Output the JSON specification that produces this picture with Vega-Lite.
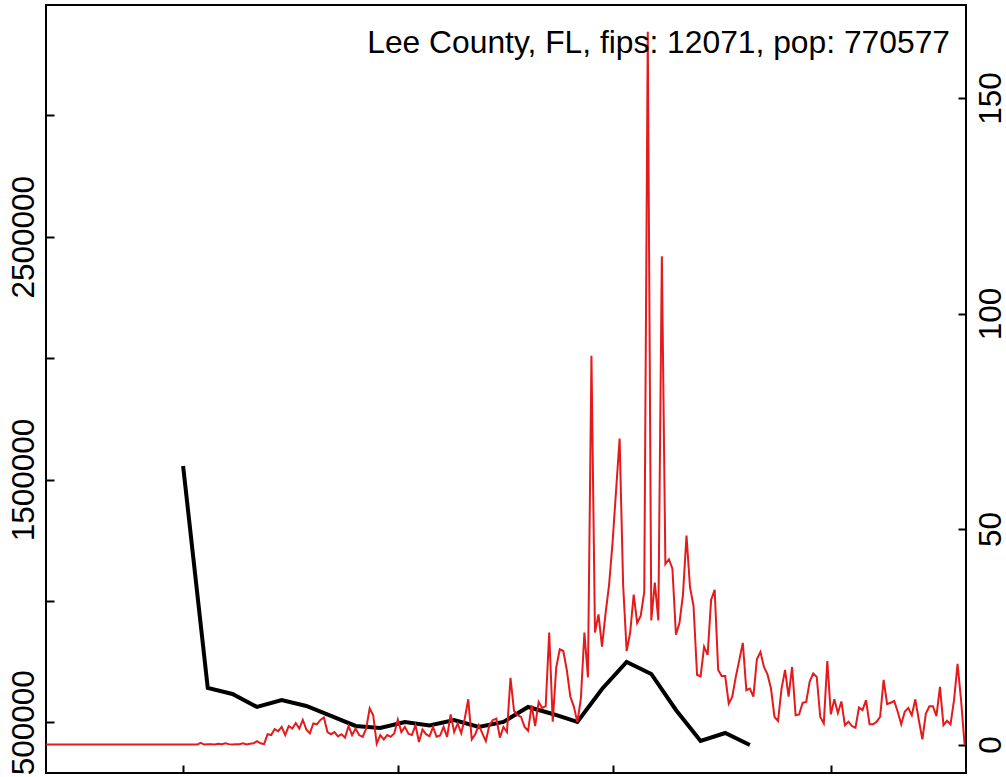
{
  "$schema": "https://vega.github.io/schema/vega-lite/v6.json",
  "width": 920,
  "height": 768,
  "autosize": {"type": "none"},
  "padding": {"left": 46, "top": 5, "right": 40, "bottom": 4},
  "background": "white",
  "config": {
    "view": {"stroke": "black", "strokeWidth": 2},
    "axis": {
      "domain": false, "grid": false, "ticks": true, "tickColor": "black", "tickWidth": 2, "tickSize": 8, "offset": -8,
      "labelFont": "Liberation Sans", "labelFontSize": 31.5, "labelColor": "black",
      "labelOverlap": false, "labelFlush": false, "labelBound": false, "title": null
    }
  },
  "title": {
    "text": "Lee County, FL, fips: 12071, pop: 770577",
    "anchor": "end", "orient": "top", "frame": "group", "offset": 0, "dx": -16, "dy": 80,
    "baseline": "alphabetic", "font": "Liberation Sans", "fontSize": 31.8, "fontWeight": "normal", "color": "black"
  },
  "datasets": {
    "weekly": [
      {"day": 39, "value": 1556000}, {"day": 46, "value": 641300}, {"day": 53, "value": 616600},
      {"day": 60, "value": 563000}, {"day": 67, "value": 591900}, {"day": 74, "value": 567200},
      {"day": 81, "value": 526000}, {"day": 88, "value": 484800}, {"day": 95, "value": 476500},
      {"day": 102, "value": 501200}, {"day": 109, "value": 486800}, {"day": 116, "value": 509500},
      {"day": 123, "value": 480600}, {"day": 130, "value": 501200}, {"day": 137, "value": 563000},
      {"day": 144, "value": 534200}, {"day": 151, "value": 501200}, {"day": 158, "value": 637200},
      {"day": 165, "value": 748500}, {"day": 172, "value": 699000}, {"day": 179, "value": 550700},
      {"day": 186, "value": 423000}, {"day": 193, "value": 455900}, {"day": 200, "value": 406500}
    ],
    "daily": [
      {"day":0,"rate":0},{"day":1,"rate":0},{"day":2,"rate":0},{"day":3,"rate":0},{"day":4,"rate":0},{"day":5,"rate":0},{"day":6,"rate":0},{"day":7,"rate":0},{"day":8,"rate":0},{"day":9,"rate":0},
      {"day":10,"rate":0},{"day":11,"rate":0},{"day":12,"rate":0},{"day":13,"rate":0},{"day":14,"rate":0},{"day":15,"rate":0},{"day":16,"rate":0},{"day":17,"rate":0},{"day":18,"rate":0},{"day":19,"rate":0},
      {"day":20,"rate":0},{"day":21,"rate":0},{"day":22,"rate":0},{"day":23,"rate":0},{"day":24,"rate":0},{"day":25,"rate":0},{"day":26,"rate":0},{"day":27,"rate":0},{"day":28,"rate":0},{"day":29,"rate":0},
      {"day":30,"rate":0},{"day":31,"rate":0},{"day":32,"rate":0},{"day":33,"rate":0},{"day":34,"rate":0},{"day":35,"rate":0},{"day":36,"rate":0},{"day":37,"rate":0},{"day":38,"rate":0},{"day":39,"rate":0},
      {"day":40,"rate":0},{"day":41,"rate":0},{"day":42,"rate":0},{"day":43,"rate":0},{"day":44,"rate":0.4},{"day":45,"rate":0},{"day":46,"rate":0.1},{"day":47,"rate":0.1},{"day":48,"rate":0},{"day":49,"rate":0.2},
      {"day":50,"rate":0.1},{"day":51,"rate":0.3},{"day":52,"rate":0.1},{"day":53,"rate":0},{"day":54,"rate":0.1},{"day":55,"rate":0.1},{"day":56,"rate":0.3},{"day":57,"rate":0},{"day":58,"rate":0.2},{"day":59,"rate":0.3},
      {"day":60,"rate":0.8},{"day":61,"rate":0.3},{"day":62,"rate":0.1},{"day":63,"rate":2.4},{"day":64,"rate":2.2},{"day":65,"rate":3.6},{"day":66,"rate":3.1},{"day":67,"rate":4.1},{"day":68,"rate":2.2},{"day":69,"rate":4.3},
      {"day":70,"rate":3.7},{"day":71,"rate":5.0},{"day":72,"rate":3.7},{"day":73,"rate":5.7},{"day":74,"rate":3.5},{"day":75,"rate":2.6},{"day":76,"rate":4.9},{"day":77,"rate":4.7},{"day":78,"rate":5.7},{"day":79,"rate":6.3},
      {"day":80,"rate":2.9},{"day":81,"rate":2.4},{"day":82,"rate":2.9},{"day":83,"rate":1.9},{"day":84,"rate":2.4},{"day":85,"rate":1.6},{"day":86,"rate":4.3},{"day":87,"rate":2.2},{"day":88,"rate":3.7},{"day":89,"rate":2.2},
      {"day":90,"rate":1.8},{"day":91,"rate":3.7},{"day":92,"rate":8.4},{"day":93,"rate":6.8},{"day":94,"rate":0.2},{"day":95,"rate":2.2},{"day":96,"rate":1.2},{"day":97,"rate":2.2},{"day":98,"rate":1.8},{"day":99,"rate":2.6},
      {"day":100,"rate":5.8},{"day":101,"rate":2.9},{"day":102,"rate":4.1},{"day":103,"rate":2.5},{"day":104,"rate":2.2},{"day":105,"rate":4.5},{"day":106,"rate":0.6},{"day":107,"rate":3.5},{"day":108,"rate":2.4},{"day":109,"rate":1.9},
      {"day":110,"rate":4.1},{"day":111,"rate":1.8},{"day":112,"rate":2.1},{"day":113,"rate":4.1},{"day":114,"rate":1.8},{"day":115,"rate":7.0},{"day":116,"rate":2.9},{"day":117,"rate":4.9},{"day":118,"rate":2.6},{"day":119,"rate":6.0},
      {"day":120,"rate":10.5},{"day":121,"rate":1.2},{"day":122,"rate":2.4},{"day":123,"rate":4.5},{"day":124,"rate":2.6},{"day":125,"rate":0.8},{"day":126,"rate":4.5},{"day":127,"rate":5.7},{"day":128,"rate":6.0},{"day":129,"rate":1.6},
      {"day":130,"rate":4.1},{"day":131,"rate":2.9},{"day":132,"rate":15.5},{"day":133,"rate":7.8},{"day":134,"rate":6.8},{"day":135,"rate":6.4},{"day":136,"rate":4.1},{"day":137,"rate":3.2},{"day":138,"rate":9.1},{"day":139,"rate":4.3},
      {"day":140,"rate":9.9},{"day":141,"rate":8.5},{"day":142,"rate":8.9},{"day":143,"rate":26},{"day":144,"rate":5.3},{"day":145,"rate":17.9},{"day":146,"rate":22.1},{"day":147,"rate":21.7},{"day":148,"rate":17.3},{"day":149,"rate":11.1},
      {"day":150,"rate":8.8},{"day":151,"rate":5.2},{"day":152,"rate":10.7},{"day":153,"rate":26},{"day":154,"rate":15.6},{"day":155,"rate":90.2},{"day":156,"rate":26},{"day":157,"rate":30.2},{"day":158,"rate":22.7},{"day":159,"rate":30.4},
      {"day":160,"rate":37},{"day":161,"rate":46.9},{"day":162,"rate":59},{"day":163,"rate":71},{"day":164,"rate":37},{"day":165,"rate":21.7},{"day":166,"rate":26},{"day":167,"rate":34.8},{"day":168,"rate":28.2},{"day":169,"rate":29.9},
      {"day":170,"rate":35.4},{"day":171,"rate":165.4},{"day":172,"rate":28.8},{"day":173,"rate":37.6},{"day":174,"rate":28.8},{"day":175,"rate":113.3},{"day":176,"rate":41.9},{"day":177,"rate":43},{"day":178,"rate":40.8},{"day":179,"rate":25.5},
      {"day":180,"rate":28.2},{"day":181,"rate":34.8},{"day":182,"rate":48.5},{"day":183,"rate":36.5},{"day":184,"rate":32.1},{"day":185,"rate":16.2},{"day":186,"rate":15.8},{"day":187,"rate":22.7},{"day":188,"rate":20.8},{"day":189,"rate":33.6},
      {"day":190,"rate":35.9},{"day":191,"rate":17.3},{"day":192,"rate":15.9},{"day":193,"rate":15.9},{"day":194,"rate":9.5},{"day":195,"rate":11.1},{"day":196,"rate":15.7},{"day":197,"rate":19.6},{"day":198,"rate":23.6},{"day":199,"rate":12.6},
      {"day":200,"rate":13},{"day":201,"rate":11.1},{"day":202,"rate":19.8},{"day":203,"rate":21.5},{"day":204,"rate":18},{"day":205,"rate":16.3},{"day":206,"rate":13},{"day":207,"rate":6.4},{"day":208,"rate":5.5},{"day":209,"rate":13},
      {"day":210,"rate":17.3},{"day":211,"rate":11.1},{"day":212,"rate":18},{"day":213,"rate":6.8},{"day":214,"rate":7},{"day":215,"rate":9.7},{"day":216,"rate":9.9},{"day":217,"rate":14.6},{"day":218,"rate":16.5},{"day":219,"rate":15.7},
      {"day":220,"rate":6.4},{"day":221,"rate":4.9},{"day":222,"rate":19.4},{"day":223,"rate":7},{"day":224,"rate":10.5},{"day":225,"rate":7.3},{"day":226,"rate":10},{"day":227,"rate":4.5},{"day":228,"rate":5.3},{"day":229,"rate":4.3},
      {"day":230,"rate":3.9},{"day":231,"rate":8.6},{"day":232,"rate":8},{"day":233,"rate":10.3},{"day":234,"rate":4.7},{"day":235,"rate":4.7},{"day":236,"rate":5.3},{"day":237,"rate":6.4},{"day":238,"rate":15},{"day":239,"rate":9.4},
      {"day":240,"rate":9.7},{"day":241,"rate":10.1},{"day":242,"rate":7.6},{"day":243,"rate":4.7},{"day":244,"rate":7.6},{"day":245,"rate":8.5},{"day":246,"rate":6.8},{"day":247,"rate":10.5},{"day":248,"rate":5.7},{"day":249,"rate":1.2},
      {"day":250,"rate":7.2},{"day":251,"rate":8.9},{"day":252,"rate":8.9},{"day":253,"rate":6.6},{"day":254,"rate":13.4},{"day":255,"rate":4.5},{"day":256,"rate":5.5},{"day":257,"rate":4.7},{"day":258,"rate":10.3},{"day":259,"rate":18.7},
      {"day":260,"rate":10.3},{"day":261,"rate":0}
    ]
  },
  "layer": [
    {
      "data": {"name": "weekly"},
      "mark": {"type": "line", "color": "black", "strokeWidth": 4, "clip": true},
      "encoding": {
        "x": {"field": "day", "type": "quantitative", "scale": {"domain": [0.05, 261.4], "nice": false, "zero": false},
              "axis": {"orient": "bottom", "values": [39, 100, 161, 223], "labels": false}},
        "y": {"field": "value", "type": "quantitative", "scale": {"domain": [291000, 3455000], "nice": false, "zero": false},
              "axis": {"orient": "left", "values": [500000, 1000000, 1500000, 2000000, 2500000, 3000000], "format": "d",
                       "labelExpr": "datum.value % 1000000 == 500000 ? datum.label : ''",
                       "labelAngle": -90, "labelAlign": "center", "labelBaseline": "alphabetic", "labelPadding": 13}}
      }
    },
    {
      "data": {"name": "daily"},
      "mark": {"type": "line", "color": "#e41a1c", "strokeWidth": 2, "clip": true},
      "encoding": {
        "x": {"field": "day", "type": "quantitative", "scale": {"domain": [0.05, 261.4], "nice": false, "zero": false},
              "axis": {"orient": "bottom", "values": [39, 100, 161, 223], "labels": false}},
        "y": {"field": "rate", "type": "quantitative", "scale": {"domain": [-6.6, 171.6], "nice": false, "zero": false},
              "axis": {"orient": "right", "values": [0, 50, 100, 150], "format": "d",
                       "labelAngle": -90, "labelAlign": "center", "labelBaseline": "alphabetic", "labelPadding": 34}}
      }
    }
  ],
  "resolve": {"scale": {"y": "independent"}}
}
